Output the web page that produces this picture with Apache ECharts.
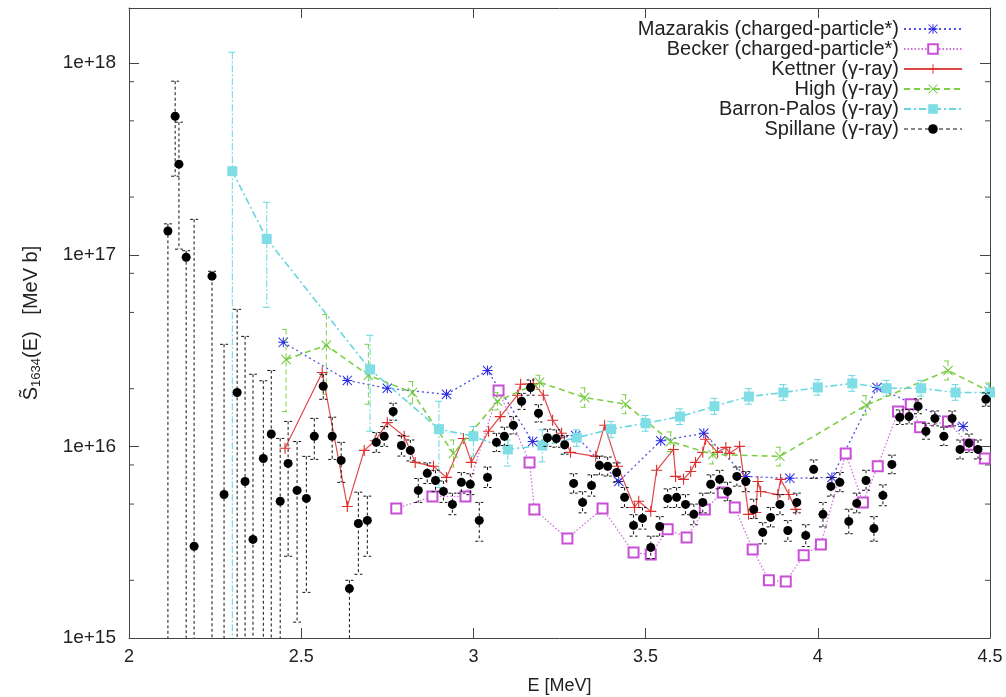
<!DOCTYPE html>
<html>
<head>
<meta charset="utf-8">
<title>S-factor vs E</title>
<script src="https://cdn.jsdelivr.net/npm/echarts@6/dist/echarts.min.js"></script>
<style>
  html, body { margin: 0; padding: 0; background: #fff; }
  #main { width: 1006px; height: 697px; }
</style>
</head>
<body>
<div id="main"></div>
<script>
// axis ticks
var xMin = 2, xMax = 4.5, xStep = 0.5;
var yMin = 1e15, yMax = 1.94e18;
var yMinorTicks = [2e15, 5e15, 8e15, 2e16, 5e16, 8e16, 2e17, 5e17, 8e17];

// Mazarakis (charged-particle*)
var mazE = [2.448, 2.634, 2.750, 2.922, 3.041, 3.172, 3.297, 3.422, 3.544, 3.669, 3.791, 3.919, 4.041, 4.172, 4.422];
var mazS = [3.49e16, 2.21e16, 2.01e16, 1.87e16, 2.49e16, 1.06e16, 1.14e16, 6.56e15, 1.07e16, 1.17e16, 6.97e15, 6.81e15, 6.89e15, 2.03e16, 1.27e16];

// Becker (charged-particle*)
var beckE = [2.776, 2.881, 2.977, 3.073, 3.163, 3.177, 3.273, 3.375, 3.465, 3.515, 3.564, 3.619, 3.672, 3.724, 3.759,
             3.811, 3.858, 3.907, 3.959, 4.009, 4.081, 4.131, 4.174, 4.233, 4.270, 4.297, 4.378, 4.439, 4.485];
var beckS = [4.74e15, 5.48e15, 5.48e15, 1.96e16, 8.25e15, 4.69e15, 3.31e15, 4.74e15, 2.79e15, 2.73e15, 3.69e15, 3.35e15, 4.69e15, 5.75e15, 4.80e15,
             2.90e15, 2.00e15, 1.97e15, 2.70e15, 3.08e15, 9.19e15, 5.10e15, 7.87e15, 1.52e16, 1.66e16, 1.26e16, 1.35e16, 1.02e16, 8.65e15];

// Kettner (gamma-ray)
var kettE = [2.453, 2.561, 2.634, 2.683, 2.715, 2.750, 2.799, 2.831, 2.884, 2.922, 2.971, 2.994, 3.044, 3.078, 3.128, 3.137,
             3.174, 3.203, 3.230, 3.256, 3.282, 3.355, 3.381, 3.419, 3.468, 3.480, 3.515, 3.532, 3.581, 3.587, 3.610, 3.631,
             3.645, 3.666, 3.674, 3.709, 3.733, 3.744, 3.773, 3.799, 3.820, 3.826, 3.834, 3.884, 3.892, 3.916, 3.936];
var kettS = [9.77e15, 2.43e16, 4.86e15, 9.53e15, 1.07e16, 1.33e16, 1.13e16, 8.25e15, 7.87e15, 6.89e15, 1.10e16, 8.25e15, 1.20e16, 1.43e16, 1.85e16, 2.11e16,
             2.13e16, 1.85e16, 1.37e16, 1.17e16, 9.31e15, 8.87e15, 1.29e16, 7.87e15, 4.80e15, 5.17e15, 4.58e15, 7.50e15, 9.64e15, 6.97e15, 6.73e15, 7.40e15,
             8.25e15, 9.31e15, 1.09e16, 9.31e15, 9.88e15, 9.19e15, 1.00e16, 4.42e15, 4.52e15, 6.56e15, 5.82e15, 5.61e15, 6.73e15, 5.61e15, 4.69e15];

// High (gamma-ray)
var highE  = [2.456, 2.573, 2.695, 2.823, 2.942, 3.070, 3.192, 3.323, 3.442, 3.573, 3.695, 3.890, 4.140, 4.378, 4.497];
var highS  = [2.84e16, 3.37e16, 2.35e16, 1.91e16, 9.19e15, 1.72e16, 2.16e16, 1.80e16, 1.66e16, 1.06e16, 9.08e15, 8.87e15, 1.64e16, 2.49e16, 1.94e16];
var highLo = [1.52e16, 1.87e16, 1.66e16, 1.68e16, 7.8e15, 1.55e16, 1.98e16, 1.60e16, 1.48e16, 9.4e15, 8.1e15, 7.9e15, 1.46e16, 2.22e16, 1.76e16];
var highHi = [4.08e16, 4.88e16, 3.41e16, 2.18e16, 1.08e16, 1.91e16, 2.35e16, 2.02e16, 1.86e16, 1.19e16, 1.02e16, 9.9e15, 1.84e16, 2.79e16, 2.14e16];

// Barron-Palos (gamma-ray)
var bpE  = [2.3, 2.4, 2.7, 2.9, 3.0, 3.1, 3.2, 3.3, 3.4, 3.5, 3.6, 3.7, 3.8, 3.9, 4.0, 4.1, 4.2, 4.3, 4.4, 4.5];
var bpS  = [2.73e17, 1.21e17, 2.52e16, 1.23e16, 1.13e16, 9.64e15, 1.01e16, 1.11e16, 1.23e16, 1.32e16, 1.43e16, 1.62e16, 1.82e16, 1.91e16, 2.03e16, 2.13e16, 2.01e16, 2.01e16, 1.91e16, 1.91e16];
var bpLo = [5e14, 5.32e16, 1.20e16, 6.11e15, 8.9e15, 7.9e15, 8.3e15, 1.0e16, 1.11e16, 1.20e16, 1.30e16, 1.47e16, 1.66e16, 1.74e16, 1.85e16, 1.94e16, 1.83e16, 1.83e16, 1.74e16, 1.74e16];
var bpHi = [1.14e18, 1.88e17, 3.80e16, 1.72e16, 1.27e16, 1.08e16, 1.22e16, 1.22e16, 1.35e16, 1.45e16, 1.57e16, 1.78e16, 2.0e16, 2.1e16, 2.23e16, 2.34e16, 2.21e16, 2.21e16, 2.1e16, 2.1e16];

// Spillane (gamma-ray)
var spE = [2.113, 2.134, 2.145, 2.166, 2.189, 2.241, 2.276, 2.314, 2.337, 2.360, 2.390, 2.413, 2.439, 2.462, 2.488, 2.515,
           2.538, 2.564, 2.590, 2.616, 2.640, 2.666, 2.692, 2.718, 2.741, 2.767, 2.791, 2.817, 2.840, 2.866, 2.890, 2.913,
           2.939, 2.965, 2.991, 3.017, 3.041, 3.067, 3.090, 3.116, 3.140, 3.166, 3.189, 3.215, 3.241, 3.265, 3.291, 3.317,
           3.343, 3.366, 3.390, 3.416, 3.439, 3.465, 3.491, 3.515, 3.541, 3.564, 3.590, 3.616, 3.640, 3.666, 3.689, 3.715,
           3.738, 3.765, 3.791, 3.814, 3.840, 3.863, 3.890, 3.913, 3.939, 3.965, 3.988, 4.015, 4.038, 4.064, 4.090, 4.113,
           4.140, 4.163, 4.189, 4.215, 4.238, 4.265, 4.291, 4.314, 4.340, 4.366, 4.390, 4.413, 4.439, 4.465, 4.488];
var spS = [1.33e17, 5.28e17, 2.97e17, 9.71e16, 3.01e15, 7.73e16, 5.61e15, 1.91e16, 6.56e15, 3.27e15, 8.65e15, 1.16e16, 5.17e15, 8.15e15, 5.89e15, 5.35e15,
           1.13e16, 2.06e16, 1.13e16, 8.45e15, 1.81e15, 3.96e15, 4.11e15, 1.05e16, 1.13e16, 1.52e16, 1.01e16, 9.53e15, 5.89e15, 7.23e15, 6.64e15, 5.82e15,
           4.98e15, 6.49e15, 6.34e15, 4.11e15, 6.89e15, 1.05e16, 1.13e16, 1.29e16, 1.72e16, 2.03e16, 1.49e16, 1.11e16, 1.10e16, 1.02e16, 6.41e15, 5.10e15,
           6.25e15, 7.96e15, 7.87e15, 7.31e15, 5.42e15, 3.87e15, 4.21e15, 2.97e15, 3.82e15, 5.35e15, 5.42e15, 4.98e15, 4.42e15, 5.10e15, 6.34e15, 6.73e15,
           5.82e15, 6.97e15, 6.56e15, 4.69e15, 3.56e15, 4.26e15, 4.98e15, 3.64e15, 5.10e15, 3.43e15, 7.59e15, 4.42e15, 6.18e15, 6.49e15, 4.06e15, 5.04e15,
           6.64e15, 3.73e15, 5.55e15, 8.05e15, 1.42e16, 1.43e16, 1.62e16, 1.20e16, 1.40e16, 1.13e16, 1.40e16, 9.64e15, 1.04e16, 9.64e15, 1.76e16];
var spLo = [5e14, 2.57e17, 1.07e17, 5e14, 5e14, 5e14, 5e14, 5e14, 5e14, 5e14, 5e14, 5e14, 5e14, 2.67e15, 1.21e15, 1.73e15,
            8.55e15, 1.76e16, 8.55e15, 6.49e15, 5e14, 2.15e15, 2.67e15, 9.3e15, 1.0e16, 1.37e16, 8.9e15, 8.4e15, 5.1e15, 6.4e15, 5.8e15, 5.1e15,
            4.4e15, 5.7e15, 5.6e15, 3.2e15, 6.1e15, 9.4e15, 1.01e16, 1.16e16, 1.56e16, 1.85e16, 1.34e16, 1.0e16, 9.9e15, 9.1e15, 5.7e15, 4.5e15,
            5.5e15, 7.1e15, 7.0e15, 6.5e15, 4.8e15, 3.4e15, 3.7e15, 2.6e15, 3.4e15, 4.8e15, 4.8e15, 4.4e15, 3.9e15, 4.5e15, 5.7e15, 6.0e15,
            5.2e15, 6.2e15, 5.8e15, 4.2e15, 3.1e15, 3.8e15, 4.4e15, 3.2e15, 4.5e15, 3.0e15, 6.8e15, 3.8e15, 5.5e15, 5.8e15, 3.5e15, 4.5e15,
            5.9e15, 3.2e15, 4.9e15, 7.2e15, 1.30e16, 1.31e16, 1.48e16, 1.09e16, 1.28e16, 1.01e16, 1.28e16, 8.6e15, 9.3e15, 8.6e15, 1.62e16];
var spHi = [1.45e17, 8.05e17, 4.92e17, 1.05e17, 1.53e17, 8.2e16, 3.41e16, 5.19e16, 3.75e16, 2.38e16, 2.2e16, 2.49e16, 1.1e16, 1.35e16, 1.06e16, 8.87e15,
            1.40e16, 2.38e16, 1.42e16, 1.05e16, 2.0e15, 5.77e15, 5.50e15, 1.18e16, 1.27e16, 1.68e16, 1.14e16, 1.08e16, 6.8e15, 8.2e15, 7.5e15, 6.6e15,
            5.7e15, 7.3e15, 7.2e15, 5.1e15, 7.8e15, 1.17e16, 1.26e16, 1.43e16, 1.89e16, 2.22e16, 1.65e16, 1.23e16, 1.22e16, 1.14e16, 7.2e15, 5.8e15,
            7.1e15, 8.9e15, 8.8e15, 8.2e15, 6.1e15, 4.4e15, 4.8e15, 3.4e15, 4.3e15, 6.0e15, 6.1e15, 5.6e15, 5.0e15, 5.7e15, 7.1e15, 7.5e15,
            6.5e15, 7.8e15, 7.4e15, 5.3e15, 4.0e15, 4.8e15, 5.6e15, 4.1e15, 5.7e15, 3.9e15, 8.5e15, 5.1e15, 6.9e15, 7.3e15, 4.7e15, 5.7e15,
            7.5e15, 4.3e15, 6.3e15, 9.0e15, 1.55e16, 1.56e16, 1.77e16, 1.32e16, 1.53e16, 1.26e16, 1.53e16, 1.08e16, 1.16e16, 1.08e16, 1.90e16];

var names = [
  'Mazarakis (charged-particle*)',
  'Becker (charged-particle*)',
  'Kettner (\u03b3-ray)',
  'High (\u03b3-ray)',
  'Barron-Palos (\u03b3-ray)',
  'Spillane (\u03b3-ray)'
];

var FONT = '"Liberation Sans", Arial, sans-serif';

// marker shapes
var plusPath = 'path://M9,0L11,0L11,20L9,20ZM0,9L20,9L20,11L0,11Z';
var crossPath = 'path://M1.4,0L20,18.6L18.6,20L0,1.4ZM18.6,0L20,1.4L1.4,20L0,18.6Z';
var starPath = 'path://M9,0L11,0L11,20L9,20ZM0,9L20,9L20,11L0,11ZM1.4,0L20,18.6L18.6,20L0,1.4ZM18.6,0L20,1.4L1.4,20L0,18.6Z';

function pairs(xs, ys) {
  return xs.map(function (x, i) { return [x, ys[i]]; });
}
function triples(xs, lo, hi) {
  return xs.map(function (x, i) { return [x, lo[i], hi[i]]; });
}

// vertical error bar with small caps
function errBar(color, dash, cap) {
  return function (params, api) {
    var x = api.value(0);
    var a = api.coord([x, api.value(2)]);
    var b = api.coord([x, api.value(1)]);
    return {
      type: 'group',
      children: [
        { type: 'line', shape: { x1: a[0], y1: a[1], x2: b[0], y2: b[1] },
          style: { stroke: color, lineWidth: 1, lineDash: dash } },
        { type: 'line', shape: { x1: a[0] - cap, y1: a[1], x2: a[0] + cap, y2: a[1] },
          style: { stroke: color, lineWidth: 1, lineDash: dash } },
        { type: 'line', shape: { x1: b[0] - cap, y1: b[1], x2: b[0] + cap, y2: b[1] },
          style: { stroke: color, lineWidth: 1, lineDash: dash } }
      ]
    };
  };
}

var chart = echarts.init(document.getElementById('main'));

var option = {
  animation: false,
  backgroundColor: '#ffffff',
  grid: { left: 129, right: 16, top: 8, bottom: 59, outerBoundsMode: 'none', containLabel: false },
  legend: {
    orient: 'vertical',
    align: 'right',
    right: 38,
    top: 14,
    itemWidth: 58,
    itemHeight: 12,
    itemGap: 0,
    textStyle: { fontFamily: FONT, fontSize: 20, color: '#222', lineHeight: 20 },
    data: [
      { name: names[0] },
      { name: names[1] },
      { name: names[2] },
      { name: names[3] },
      { name: names[4] },
      { name: names[5], lineStyle: { opacity: 1, width: 1, type: [4, 3], color: '#111' } }
    ]
  },
  xAxis: [{
    type: 'value', min: xMin, max: xMax, interval: xStep,
    name: 'E [MeV]', nameLocation: 'middle', nameGap: 39,
    nameTextStyle: { fontFamily: FONT, fontSize: 18, color: '#222' },
    axisLine: { lineStyle: { color: '#444', width: 1 } },
    axisTick: { inside: true, length: 10, lineStyle: { color: '#444' } },
    axisLabel: { fontFamily: FONT, fontSize: 18, color: '#222', margin: 10 },
    splitLine: { show: false }
  }, {
    type: 'value', min: xMin, max: xMax, interval: xStep, position: 'top',
    axisLine: { lineStyle: { color: '#444', width: 1 } },
    axisTick: { inside: true, length: 10, lineStyle: { color: '#444' } },
    axisLabel: { show: false },
    splitLine: { show: false }
  }],
  yAxis: [{
    type: 'log', logBase: 10, min: yMin, max: yMax,
    name: '{t|S\u0303}{s|1634}{t|(E)   [MeV b]}',
    nameLocation: 'middle', nameGap: 86, nameRotate: 90,
    nameTextStyle: {
      fontFamily: FONT, color: '#222',
      rich: {
        t: { fontFamily: FONT, fontSize: 20, color: '#222', lineHeight: 24 },
        s: { fontFamily: FONT, fontSize: 13, color: '#222', lineHeight: 24, verticalAlign: 'bottom', padding: [9, 0, 0, 0] }
      }
    },
    axisLine: { lineStyle: { color: '#444', width: 1 } },
    axisTick: { inside: true, length: 10, lineStyle: { color: '#444' } },
    axisLabel: {
      fontFamily: FONT, fontSize: 19, color: '#222', margin: 13,
      formatter: function (v) {
        var p = Math.log10(v);
        return Math.abs(p - Math.round(p)) < 1e-6 ? '1e+' + Math.round(p) : '';
      }
    },
    splitLine: { show: false }
  }, {
    type: 'log', logBase: 10, min: yMin, max: yMax, position: 'right',
    axisLine: { lineStyle: { color: '#444', width: 1 } },
    axisTick: { inside: true, length: 10, lineStyle: { color: '#444' } },
    axisLabel: { show: false },
    splitLine: { show: false }
  }],
  series: [
    {
      // minor log ticks on both sides
      type: 'custom', silent: true, clip: false, z: 1,
      data: yMinorTicks.map(function (v) { return [xMin, v]; }),
      renderItem: function (params, api) {
        var l = api.coord([xMin, api.value(1)]);
        var r = api.coord([xMax, api.value(1)]);
        return {
          type: 'group',
          children: [
            { type: 'line', shape: { x1: l[0], y1: l[1], x2: l[0] + 5, y2: l[1] }, style: { stroke: '#444', lineWidth: 1 } },
            { type: 'line', shape: { x1: r[0] - 5, y1: r[1], x2: r[0], y2: r[1] }, style: { stroke: '#444', lineWidth: 1 } }
          ]
        };
      }
    },
    {
      name: names[0], type: 'line', z: 3,
      data: pairs(mazE, mazS),
      symbol: starPath, symbolSize: 10,
      itemStyle: { color: '#2a2ae6' },
      lineStyle: { color: '#5050e0', width: 1.3, type: [2, 3] }
    },
    {
      name: names[1], type: 'line', z: 3,
      data: pairs(beckE, beckS),
      symbol: 'emptyRect', symbolSize: 10,
      itemStyle: { color: '#c94fd6', borderWidth: 1.4 },
      lineStyle: { color: '#d070dc', width: 1.3, type: [1.5, 2] }
    },
    {
      name: names[2], type: 'line', z: 4,
      data: pairs(kettE, kettS),
      symbol: plusPath, symbolSize: 11,
      itemStyle: { color: '#dd2f2f' },
      lineStyle: { color: '#e04848', width: 1.2 }
    },
    {
      type: 'custom', silent: true, clip: true, z: 4,
      data: triples(highE, highLo, highHi),
      renderItem: errBar('#7ccf44', [5, 3], 4)
    },
    {
      name: names[3], type: 'line', z: 5,
      data: pairs(highE, highS),
      symbol: crossPath, symbolSize: 10,
      itemStyle: { color: '#6cc736' },
      lineStyle: { color: '#7ccf44', width: 1.6, type: [6, 4] }
    },
    {
      type: 'custom', silent: true, clip: true, z: 5,
      data: triples(bpE, bpLo, bpHi),
      renderItem: errBar('#68d6e0', [7, 2, 2, 2], 4)
    },
    {
      name: names[4], type: 'line', z: 6,
      data: pairs(bpE, bpS),
      symbol: 'rect', symbolSize: 10,
      itemStyle: { color: '#7fdde6' },
      lineStyle: { color: '#68d6e0', width: 1.6, type: [7, 3, 2, 3] }
    },
    {
      type: 'custom', silent: true, clip: true, z: 7,
      data: triples(spE, spLo, spHi),
      renderItem: errBar('#111', [3, 2.5], 4)
    },
    {
      name: names[5], type: 'line', z: 8,
      data: pairs(spE, spS),
      symbol: 'circle', symbolSize: 9,
      itemStyle: { color: '#000' },
      lineStyle: { opacity: 0, width: 0 }
    }
  ]
};

chart.setOption(option);
</script>
</body>
</html>
